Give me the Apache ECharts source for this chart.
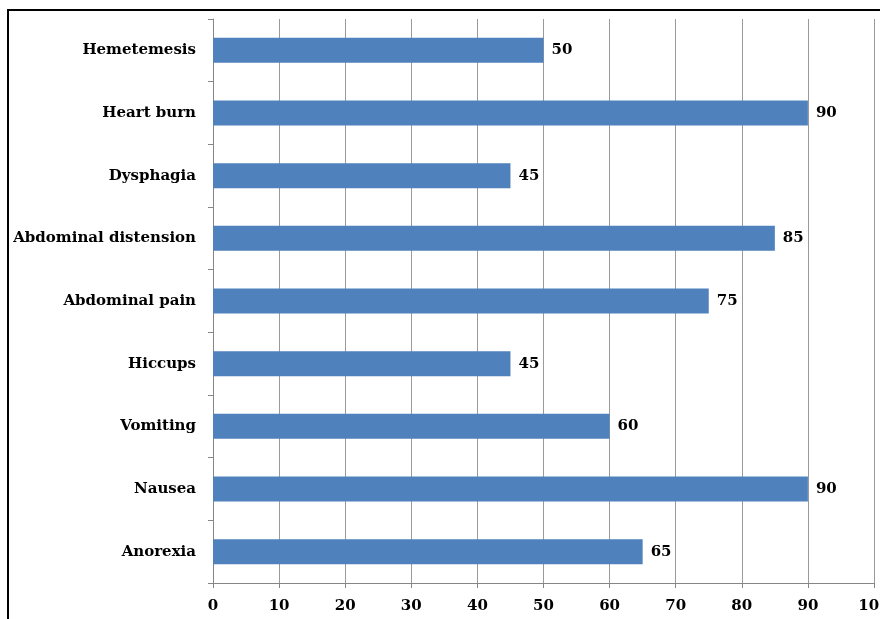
<!DOCTYPE html>
<html>
<head>
<meta charset="utf-8">
<script src="https://cdn.jsdelivr.net/npm/echarts@6/dist/echarts.min.js"></script>
<style>
html,body{margin:0;padding:0;background:#fff;}
#chart{width:880px;height:619px;}
</style>
</head>
<body>
<div id="chart"></div>
<script>
var categories = ["Anorexia","Nausea","Vomiting","Hiccups","Abdominal pain","Abdominal distension","Dysphagia","Heart burn","Hemetemesis"];
var values = [65,90,60,45,75,85,45,90,50];
var xTicks = [0,10,20,30,40,50,60,70,80,90,100];

var chart = echarts.init(document.getElementById('chart'));
var font = '"DejaVu Serif","Liberation Serif",serif';
chart.setOption({
  animation:false,
  backgroundColor:'#fff',
  graphic:[{type:'rect',shape:{x:8,y:10,width:1000,height:1000},style:{fill:'none',stroke:'#000',lineWidth:2},z:-1}],
  grid:{left:213,right:6,top:19,bottom:36,containLabel:false,outerBoundsMode:'none'},
  xAxis:{
    type:'value',min:xTicks[0],max:xTicks[xTicks.length-1],interval:10,
    axisLine:{show:true,lineStyle:{color:'#868686',width:1}},
    axisTick:{show:true,length:5,lineStyle:{color:'#868686'}},
    splitLine:{show:true,lineStyle:{color:'#9a9a9a',width:1}},
    axisLabel:{color:'#000',fontFamily:font,fontWeight:'bold',fontSize:15,margin:16}
  },
  yAxis:{
    type:'category',data:categories,
    axisLine:{show:true,lineStyle:{color:'#868686'}},
    axisTick:{show:true,inside:false,length:5,alignWithLabel:false,lineStyle:{color:'#868686'}},
    axisLabel:{color:'#000',fontFamily:font,fontWeight:'bold',fontSize:15,margin:17}
  },
  series:[{
    type:'bar',data:values,barWidth:25,
    itemStyle:{color:'#4f81bd'},
    label:{show:true,position:'right',distance:8,color:'#000',fontFamily:font,fontWeight:'bold',fontSize:15}
  }]
});
</script>
</body>
</html>
